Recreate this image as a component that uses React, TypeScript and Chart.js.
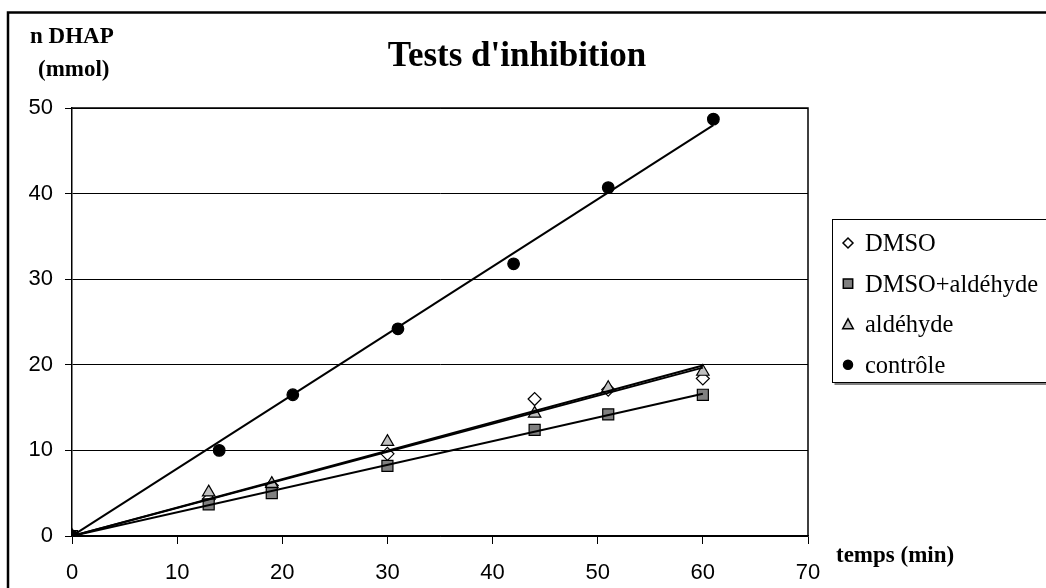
import React, { useEffect, useRef } from 'react';
import { Chart, registerables } from 'chart.js';

Chart.register(...registerables);

// ---- data ----
const seriesNames = ['DMSO', 'DMSO+aldéhyde', 'aldéhyde', 'contrôle'];
const timesTest = [0, 13, 19, 30, 44, 51, 60];
const timesControl = [0, 14, 21, 31, 42, 51, 61];
const dmso = [0, 4.3, 5.9, 9.6, 16.0, 17.1, 18.4];
const dmsoAldehyde = [0, 3.7, 5.0, 8.2, 12.4, 14.2, 16.5];
const aldehyde = [0, 5.1, 6.1, 11.0, 14.3, 17.3, 19.2];
const controle = [0, 10.0, 16.5, 24.2, 31.8, 40.7, 48.7];
const xRange = [0, 70];
const yRange = [0, 50];
const tickStep = 10;
const chartTitle = "Tests d'inhibition";
const yTitleLines = ['n DHAP', '(mmol)'];
const xTitle = 'temps (min)';

const SERIF = '"Liberation Serif", "Times New Roman", serif';
const SANS = '"Liberation Sans", Arial, sans-serif';

type Style = { pointStyle: string; radius: number; fill: string };
const styles: Style[] = [
  { pointStyle: 'rectRot', radius: 6.5, fill: '#ffffff' },
  { pointStyle: 'rect', radius: 7.8, fill: '#808080' },
  { pointStyle: 'triangle', radius: 7.2, fill: '#c0c0c0' },
  { pointStyle: 'circle', radius: 5.8, fill: '#000000' },
];

const seriesX = [timesTest, timesTest, timesTest, timesControl];
const seriesY = [dmso, dmsoAldehyde, aldehyde, controle];

// least-squares trend line through the origin (as the spreadsheet's trendline)
function trend(xs: number[], ys: number[]) {
  let sxy = 0;
  let sxx = 0;
  xs.forEach((x, i) => {
    sxy += x * ys[i];
    sxx += x * x;
  });
  const k = sxy / sxx;
  const xmax = Math.max(...xs);
  return [
    { x: 0, y: 0 },
    { x: xmax, y: k * xmax },
  ];
}

function drawMarker(ctx: CanvasRenderingContext2D, kind: string, x: number, y: number, r: number, fill: string) {
  ctx.save();
  ctx.beginPath();
  if (kind === 'circle') {
    ctx.arc(x, y, r, 0, Math.PI * 2);
  } else if (kind === 'rect') {
    ctx.rect(x - r, y - r, 2 * r, 2 * r);
  } else if (kind === 'rectRot') {
    ctx.moveTo(x - r, y);
    ctx.lineTo(x, y - r);
    ctx.lineTo(x + r, y);
    ctx.lineTo(x, y + r);
    ctx.closePath();
  } else {
    ctx.moveTo(x, y - r);
    ctx.lineTo(x + r, y + r * 0.85);
    ctx.lineTo(x - r, y + r * 0.85);
    ctx.closePath();
  }
  ctx.fillStyle = fill;
  ctx.fill();
  ctx.lineWidth = 1.5;
  ctx.strokeStyle = '#000';
  ctx.stroke();
  ctx.restore();
}

const decorPlugin = {
  id: 'decor',
  afterDraw(chart: any) {
    const ctx: CanvasRenderingContext2D = chart.ctx;
    const a = chart.chartArea;
    ctx.save();
    // outer frame
    ctx.strokeStyle = '#000';
    ctx.lineWidth = 2.5;
    ctx.beginPath();
    ctx.moveTo(8, 700);
    ctx.lineTo(8, 12.5);
    ctx.lineTo(1100, 12.5);
    ctx.stroke();
    // plot box top/right
    ctx.lineWidth = 1.5;
    ctx.beginPath();
    ctx.moveTo(a.left, a.top);
    ctx.lineTo(a.right, a.top);
    ctx.lineTo(a.right, a.bottom);
    ctx.stroke();

    // title
    ctx.fillStyle = '#000';
    ctx.textBaseline = 'alphabetic';
    ctx.textAlign = 'center';
    ctx.font = `bold 35px ${SERIF}`;
    ctx.fillText(chartTitle, 517, 66);

    // axis titles
    ctx.textAlign = 'left';
    ctx.font = `bold 23px ${SERIF}`;
    ctx.fillText(yTitleLines[0], 30, 43);
    ctx.fillText(yTitleLines[1], 38, 76);
    ctx.fillText(xTitle, 836, 562);

    // legend box
    const lx = 832.5;
    const ly = 219.5;
    const lh = 163;
    ctx.fillStyle = '#808080';
    ctx.fillRect(lx + 2, ly + lh, 400, 2.5);
    ctx.fillStyle = '#fff';
    ctx.fillRect(lx, ly, 400, lh);
    ctx.strokeStyle = '#000';
    ctx.lineWidth = 1;
    ctx.strokeRect(lx, ly, 400, lh);

    const legendR = [5, 4.7, 5.3, 4.5];
    seriesNames.forEach((name, i) => {
      const cy = 243 + i * 40.6;
      drawMarker(ctx, styles[i].pointStyle, 848, cy, legendR[i], styles[i].fill);
      ctx.fillStyle = '#000';
      ctx.font = `24.5px ${SERIF}`;
      ctx.textAlign = 'left';
      ctx.fillText(name, 865, cy + 8);
    });
    ctx.restore();
  },
};

export default function App() {
  const ref = useRef<HTMLCanvasElement | null>(null);

  useEffect(() => {
    if (!ref.current) return;
    const pointSets = seriesNames.map((name, i) => ({
      label: name,
      data: seriesX[i].map((x, j) => ({ x, y: seriesY[i][j] })),
      showLine: false,
      pointStyle: styles[i].pointStyle,
      pointRadius: styles[i].radius,
      pointBackgroundColor: styles[i].fill,
      pointBorderColor: '#000',
      pointBorderWidth: 1.2,
      order: 4 - i,
    }));
    const trendSets = seriesNames.map((name, i) => ({
      label: name + ' trend',
      data: trend(seriesX[i], seriesY[i]),
      showLine: true,
      borderColor: '#000',
      borderWidth: 2,
      pointRadius: 0,
      fill: false,
      order: 0,
    }));

    const chart = new Chart(ref.current, {
      type: 'scatter',
      data: { datasets: [...pointSets, ...trendSets] as any },
      options: {
        animation: false,
        responsive: false,
        events: [],
        layout: { padding: { left: 0, top: 108, right: 238, bottom: 0 } },
        plugins: {
          legend: { display: false },
          title: { display: false },
          tooltip: { enabled: false },
        },
        scales: {
          x: {
            type: 'linear',
            position: 'bottom',
            min: xRange[0],
            max: xRange[1],
            afterFit: (s: any) => {
              s.height = 52;
            },
            ticks: {
              stepSize: tickStep,
              color: '#000',
              padding: 16,
              font: { family: SANS, size: 22 },
            },
            grid: { drawOnChartArea: false, color: '#000', tickLength: 8, lineWidth: 1 },
            border: { color: '#000', width: 1.5 },
          },
          y: {
            type: 'linear',
            min: yRange[0],
            max: yRange[1],
            afterFit: (s: any) => {
              s.width = 72;
            },
            ticks: {
              stepSize: tickStep,
              color: '#000',
              padding: 12,
              font: { family: SANS, size: 22 },
            },
            grid: { color: '#000', tickLength: 7, lineWidth: 1 },
            border: { color: '#000', width: 1.5 },
          },
        },
      },
      plugins: [decorPlugin],
    });
    return () => chart.destroy();
  }, []);

  return (
    <div style={{ position: 'absolute', left: 0, top: 0, width: 1046, height: 588, background: '#fff' }}>
      <canvas ref={ref} width={1046} height={588} />
    </div>
  );
}
